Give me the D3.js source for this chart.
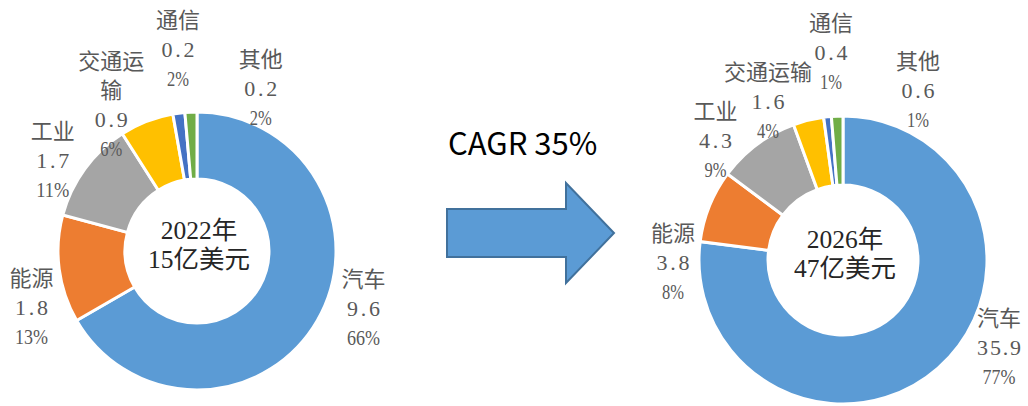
<!DOCTYPE html>
<html><head><meta charset="utf-8">
<script src="https://cdn.jsdelivr.net/npm/d3@7"></script>
<style>html,body{margin:0;padding:0;background:#fff;}svg{display:block;}</style>
</head><body><svg id="chart" width="1028" height="406"></svg>
<script>
// ---- data ----
const categories = ["汽车", "能源", "工业", "交通运输", "通信", "其他"];
const values2022 = [9.6, 1.8, 1.7, 0.9, 0.2, 0.2];
const values2026 = [35.9, 3.8, 4.3, 1.6, 0.4, 0.6];
const pctLabels2022 = ["66%", "13%", "11%", "6%", "2%", "2%"];
const pctLabels2026 = ["77%", "8%", "9%", "4%", "1%", "1%"];
const yearLabels = ["2022年", "2026年"];
const totalLabels = ["15亿美元", "47亿美元"];
const cagrLabel = "CAGR 35%";

// ---- styles / layout ----
const palette = ["#5B9BD5", "#ED7D31", "#A5A5A5", "#FFC000", "#4472C4", "#70AD47"];
const layout = [
  { cx: 197, cy: 251, R: 139, r: 72, wrap: 3,
    labelAngle: [109, 251, 302, 329.5, 354.6, 21.4],
    labelDist: [176, 175, 170, 169, 202, 175] },
  { cx: 843, cy: 260, R: 144, r: 75, wrap: 99,
    labelAngle: [119.3, 269.3, 313.2, 334.6, 356.7, 23.9],
    labelDist: [179, 170, 175, 175, 208, 185] }
];
const labelFont = 22, lineH = 29, centerFont = 25.5;
const fontStack = "'Liberation Serif','Noto Sans CJK SC',serif";

const svg = d3.select("#chart");
svg.append("rect").attr("width", 1028).attr("height", 406).attr("fill", "#fff");

const color = d3.scaleOrdinal().domain(categories).range(palette);

// SimSun-like width: half-width for ASCII, full for CJK
function simWidth(s, fs) {
  let w = 0;
  for (const ch of s) w += ch.charCodeAt(0) < 256 ? 0.5 : 1;
  return w * fs;
}
function addText(g, s, x, y, fs, fill, adjust) {
  g.append("text")
    .attr("x", x).attr("y", y)
    .attr("text-anchor", "middle")
    .attr("dominant-baseline", "central")
    .attr("font-family", fontStack)
    .attr("font-size", fs)
    .attr("fill", fill)
    .attr("textLength", simWidth(s, fs))
    .attr("lengthAdjust", adjust || "spacingAndGlyphs")
    .text(s);
}
function wrapName(name, n) {
  const out = [];
  const chars = Array.from(name);
  for (let i = 0; i < chars.length; i += n) out.push(chars.slice(i, i + n).join(""));
  return out;
}

const fmt = d3.format(".1f");
const datasets = [
  { values: values2022, pcts: pctLabels2022 },
  { values: values2026, pcts: pctLabels2026 }
];

datasets.forEach((ds, k) => {
  const L = layout[k];
  const g = svg.append("g").attr("transform", `translate(${L.cx},${L.cy})`);
  const pie = d3.pie().sort(null).value(d => d.v);
  const arcs = pie(categories.map((c, i) => ({ c, v: ds.values[i] })));
  const arc = d3.arc().innerRadius(L.r).outerRadius(L.R);

  g.selectAll("path").data(arcs).enter().append("path")
    .attr("d", arc)
    .attr("fill", d => color(d.data.c))
    .attr("stroke", "#fff")
    .attr("stroke-width", 3)
    .attr("stroke-linejoin", "miter");

  // labels
  arcs.forEach((a, i) => {
    const ang = L.labelAngle[i] * Math.PI / 180;
    const x = Math.sin(ang) * L.labelDist[i];
    const y = -Math.cos(ang) * L.labelDist[i];
    const names = wrapName(a.data.c, L.wrap);
    const lines = names.map(s => [s, "spacingAndGlyphs"])
      .concat([[fmt(a.data.v), "spacing"], [ds.pcts[i], "spacingAndGlyphs"]]);
    const n = lines.length;
    lines.forEach(([s, adj], j) => {
      addText(g, s, x, y + (j - (n - 1) / 2) * lineH, labelFont, "#595959", adj);
    });
  });

  // center text
  addText(g, yearLabels[k], 2, -21, centerFont, "#262626");
  addText(g, totalLabels[k], 2, 8, centerFont, "#262626");
});

// arrow
const ax0 = 447, ax1 = 566, ax2 = 614, ay0 = 209, ay1 = 257, hy0 = 183, hy1 = 283, tipY = 233;
svg.append("path")
  .attr("d", `M${ax0},${ay0}H${ax1}V${hy0}L${ax2},${tipY}L${ax1},${hy1}V${ay1}H${ax0}Z`)
  .attr("fill", "#5B9BD5")
  .attr("stroke", "#41719C")
  .attr("stroke-width", 2);

svg.append("text")
  .attr("x", 448).attr("y", 155)
  .attr("font-family", "'Noto Sans CJK SC','DejaVu Sans',sans-serif")
  .attr("font-size", 31)
  .attr("fill", "#000")
  .text(cagrLabel);
</script>
</body></html>
